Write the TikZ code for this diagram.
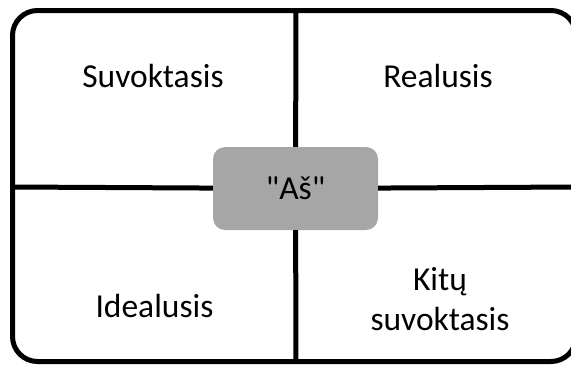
\documentclass[tikz,border=0pt]{standalone}
\usepackage{fontspec}
\newfontfamily\labelfont{Carlito}
\definecolor{boxgray}{RGB}{166,166,166}

\begin{document}
\begin{tikzpicture}[x=1bp, y=-1bp,
    quadlabel/.style={font=\labelfont\fontsize{33.5bp}{40bp}\selectfont, anchor=base, align=center}]
    \useasboundingbox (0,0) rectangle (571,367);
    \clip (0,0) rectangle (571,367);
    % frame
    \draw[line width=5bp, rounded corners=25bp](12.5,10.5) rectangle (576,361.5);
    \coordinate (top) at (296,10.5);
    \coordinate (bottom) at (296,361.5);
    \coordinate (left) at (12.5,187);
    \coordinate (right) at (576,187);
    % the self in the middle
    \node[fill=boxgray, rounded corners=12bp, minimum width=165bp, minimum height=83bp,
        font=\labelfont\fontsize{33.5bp}{40bp}\selectfont] (self) at (295.5,188.5){"Aš"};
    \draw[line width=5bp](top)--(self);
    \draw[line width=5bp](self)--(bottom);
    \draw[line width=5bp](left)--(self);
    \draw[line width=5bp](self)--(right);
    % quadrants
    \node[quadlabel] (perceived) at (153,87){Suvoktasis};
    \node[quadlabel] (real) at (438,87){Realusis};
    \node[quadlabel] (ideal) at (154.5,317){Idealusis};
    \node[quadlabel] (others) at (440,330){Kitų\\suvoktasis};
\end{tikzpicture}
\end{document}
